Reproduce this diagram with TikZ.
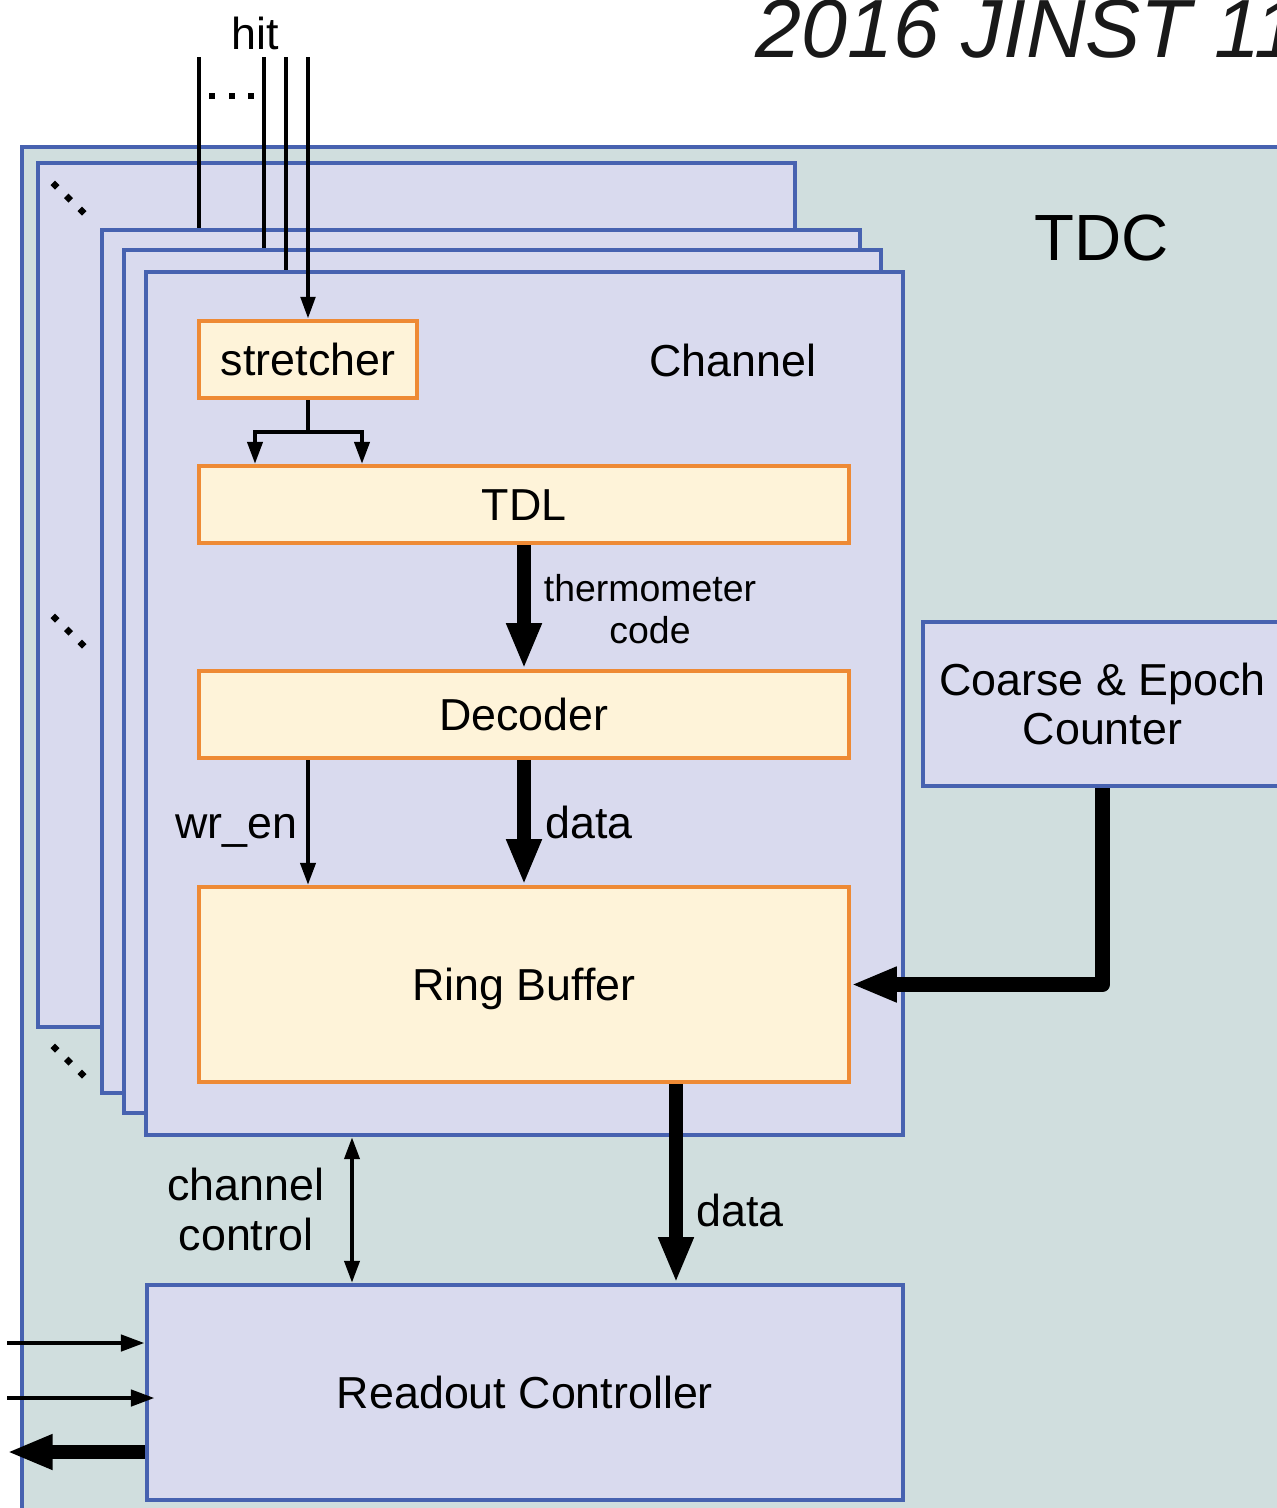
\documentclass[tikz,border=0pt]{standalone}
\usepackage{fontspec}
\setmainfont{Liberation Sans}
\usetikzlibrary{arrows.meta,fit,calc}
\definecolor{tdcfill}{RGB}{208,222,222}
\definecolor{chfill}{RGB}{217,218,238}
\definecolor{bborder}{RGB}{71,98,176}
\definecolor{oborder}{RGB}{238,138,53}
\definecolor{ofill}{RGB}{254,243,217}
\begin{document}
\begin{tikzpicture}[x=0.02cm,y=-0.02cm,
  bigtxt/.style={font=\fontsize{25.5}{28}\selectfont},
  smalltxt/.style={font=\fontsize{21.3}{23.8}\selectfont},
  boxtxt/.style={bigtxt,inner sep=0pt,text height=18.3pt,text depth=0pt},
  lbl/.style={inner sep=0pt},
  tdcbox/.style={draw=bborder,fill=tdcfill,line width=2.5pt,inner sep=0pt},
  chbox/.style={draw=bborder,fill=chfill,line width=2.5pt,inner sep=0pt},
  obox/.style={draw=oborder,fill=ofill,line width=2.4pt,inner sep=0pt},
  sigline/.style={line width=2.3pt},
  sig/.style={line width=2.3pt,-{Triangle[length=12.5pt,width=8.5pt]}},
  sigboth/.style={line width=2.3pt,{Triangle[length=12.5pt,width=8.5pt]}-{Triangle[length=12.5pt,width=8.5pt]}},
  hitline/.style={line width=2.6pt},
  rsig/.style={line width=2.8pt,-{Triangle[length=13.6pt,width=9pt]}},
  bus/.style={line width=8.5pt,-{Triangle[length=26pt,width=18.5pt]}}
]
\useasboundingbox (0,0) rectangle (1277,1508);
\clip (0,0) rectangle (1277,1508);

% watermark
\node[lbl,font=\fontsize{47}{52}\selectfont\itshape,anchor=base west,text=black!90] (wm) at (755,57) {2016 JINST 11};

% TDC
\node[tdcbox,fit={(22,147)(1330,1560)}] (tdc) {};
\node[lbl,font=\fontsize{37.2}{40}\selectfont,anchor=base] (tdclbl) at (1102,260) {TDC};

% channel frames
\node[chbox,fit={(38,163)(795,1027)}] (f1) {};
\node[chbox,fit={(102,230)(860,1093)}] (f2) {};
\node[chbox,fit={(124,250)(881,1113)}] (f3) {};
\node[chbox,fit={(146,272)(903,1135)}] (f4) {};
\node[lbl,bigtxt,anchor=base] (chlbl) at (733,376) {Channel};

% diagonal dots
\foreach \yy in {185,618,1048}
  \foreach \i in {0,1,2}
    \fill (55+13.5*\i,\yy+13*\i) +(0,-4.5) -- +(4.5,0) -- +(0,4.5) -- +(-4.5,0) -- cycle;

% boxes
\node[obox,fit={(199,321)(417,398)},label={[boxtxt]center:stretcher}] (str) {};
\node[obox,fit={(199,466)(849,543)},label={[boxtxt]center:TDL}] (tdl) {};
\node[obox,fit={(199,671)(849,758)},label={[boxtxt]center:Decoder}] (dec) {};
\node[obox,fit={(199,887)(849,1082)},label={[boxtxt]center:Ring Buffer}] (ring) {};
\node[chbox,fit={(923,622)(1282,786)},label={[bigtxt,inner sep=0pt,align=center]center:{Coarse \& Epoch\\Counter}}] (cnt) {};
\node[chbox,fit={(147,1285)(903,1500)},label={[boxtxt]center:Readout Controller}] (ro) {};

% hit lines
\coordinate (h1) at (199,57);
\coordinate (h2) at (264,57);
\coordinate (h3) at (286,57);
\coordinate (h4) at (308,57);
\node[lbl,bigtxt,anchor=base] (hitlbl) at (255,49) {hit};
\foreach \xx in {212,232,251}
  \fill (\xx-3,93) rectangle (\xx+3,99);
\draw[hitline] (h1) -- (h1 |- f2.north);
\draw[hitline] (h2) -- (h2 |- f3.north);
\draw[hitline] (h3) -- (h3 |- f4.north);
\draw[hitline,-{Triangle[length=12.5pt,width=8pt]}] (h4) -- (str.north);

% stretcher -> TDL
\coordinate (sp) at (308,432);
\coordinate (bl) at (255,0);
\coordinate (br) at (362,0);
\draw[sigline] (str.south) -- (sp);
\draw[sig] (sp) -| (tdl.north -| bl);
\draw[sig] (sp) -| (tdl.north -| br);

% TDL -> Decoder
\draw[bus] (tdl.south) -- (dec.north);
\node[lbl,smalltxt,align=center,anchor=base] (thlbl) at (650,643) {thermometer\\code};

% Decoder -> Ring buffer
\coordinate (xwr) at (308,0);
\draw[sig] (dec.south -| xwr) -- (ring.north -| xwr);
\node[lbl,bigtxt,anchor=base east] (wrlbl) at (298,838) {wr\_en};
\draw[bus] (dec.south) -- (ring.north);
\node[lbl,bigtxt,anchor=base west] (d1lbl) at (545,838) {data};

% Counter -> Ring buffer
\draw[bus,line join=round] (cnt.south) |- (ring.east);

% channel control and data to readout
\coordinate (xcc) at (352,0);
\coordinate (xdata) at (676,0);
\draw[sigboth] (f4.south -| xcc) -- (ro.north -| xcc);
\node[lbl,bigtxt,align=center,anchor=base] (cclbl) at (246,1250) {channel\\control};
\draw[bus] (ring.south -| xdata) -- (ro.north -| xdata);
\node[lbl,bigtxt,anchor=base west] (d2lbl) at (696,1226) {data};

% readout external arrows
\coordinate (in1) at (7,1343);
\coordinate (in2) at (7,1398);
\coordinate (out1) at (7,1452);
\draw[rsig] (in1) -- (ro.west |- in1);
\draw[rsig] (in2) -- ($(ro.west |- in2)+(10,0)$);
\draw[bus] (ro.west |- out1) -- (out1);
\end{tikzpicture}
\end{document}
